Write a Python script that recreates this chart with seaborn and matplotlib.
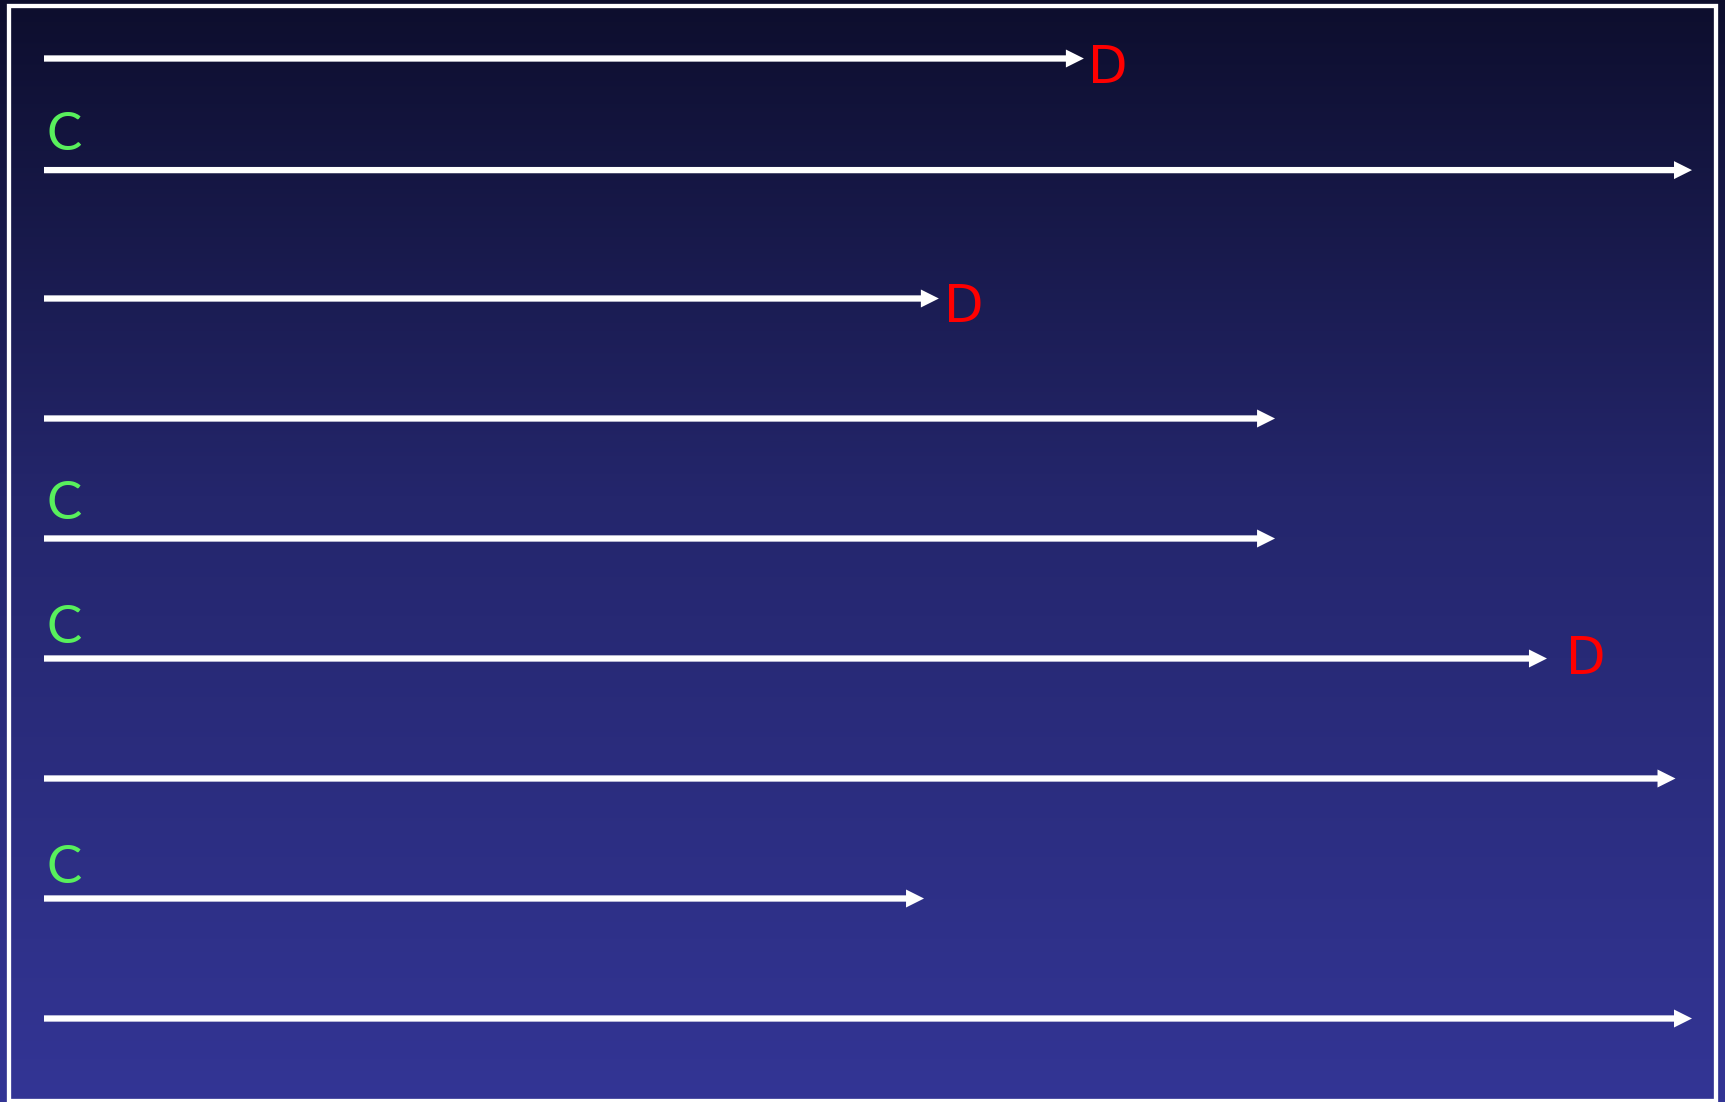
import numpy as np
import pandas as pd
import seaborn as sns
import matplotlib.pyplot as plt
from matplotlib.colors import LinearSegmentedColormap
from matplotlib.patches import Rectangle

# rows of arrows, top to bottom
row_pos = [0, 0.93, 2, 3, 4, 5, 6, 7, 8]
arrow_end = [63.1, 100, 54.3, 74.7, 74.7, 91.2, 99.0, 53.4, 100]
start_label = ["", "C", "", "", "C", "C", "", "C", ""]
end_label = ["D", "", "D", "", "", "D", "", "", ""]

df = pd.DataFrame({"y": row_pos, "end": arrow_end,
                   "start_lab": start_label, "end_lab": end_label})

# label nudges (points): (dx, dy) measured from the arrow tip / start
end_nudge = {0: (3.2, -17.6), 2: (3.8, -16.8), 5: (13.7, -11.5)}
start_nudge = {1: (1.6, 14.6), 4: (1.6, 14.0), 5: (1.6, 11.2), 7: (1.6, 11.2)}

sns.set_theme(style="white")
plt.rcParams["font.family"] = ["DejaVu Sans"]

W, H, dpi = 1725, 1102, 100
fig = plt.figure(figsize=(W / dpi, H / dpi), dpi=dpi)

# background gradient + frame
bg = fig.add_axes([0, 0, 1, 1])
cmap = LinearSegmentedColormap.from_list(
    "bg", [(0, "#0d0e2d"), (0.45, "#24266c"), (1, "#333595")])
grad = np.linspace(0, 1, 512).reshape(-1, 1)
bg.imshow(grad, cmap=cmap, aspect="auto", extent=[0, W, H, 0])
bg.add_patch(Rectangle((8.8, 6.3), 1716.3 - 8.8, 1101 - 6.3, fill=False,
                       edgecolor="white", lw=3.1))
bg.set_xlim(0, W)
bg.set_ylim(H, 0)
bg.axis("off")

# arrows axis: x=0 at 44px, x=100 at 1692px; one row = 120px
px_x = (1692 - 44) / 100
px_y = 120
ax = fig.add_axes([0, 0, 1, 1])
ax.patch.set_alpha(0)
ax.set_xlim(-44 / px_x, (W - 44) / px_x)
ax.set_ylim((H - 58.5) / px_y, -58.5 / px_y)
ax.axis("off")

for i, r in df.iterrows():
    ax.arrow(0, r["y"], r["end"], 0, width=6.3 / px_y, head_width=18 / px_y,
             head_length=18 / px_x, length_includes_head=True,
             color="white", lw=0)
    if r["start_lab"]:
        dx, dy = start_nudge[i]
        ax.annotate(r["start_lab"], xy=(0, r["y"]), xytext=(dx, dy),
                    textcoords="offset points", ha="left", va="baseline",
                    fontsize=38, color="#58f05c", family=["Lato", "DejaVu Sans"])
    if r["end_lab"]:
        dx, dy = end_nudge[i]
        ax.annotate(r["end_lab"], xy=(r["end"], r["y"]), xytext=(dx, dy),
                    textcoords="offset points", ha="left", va="baseline",
                    fontsize=37, color="#ff0000")

fig.savefig("out.png", dpi=dpi)
